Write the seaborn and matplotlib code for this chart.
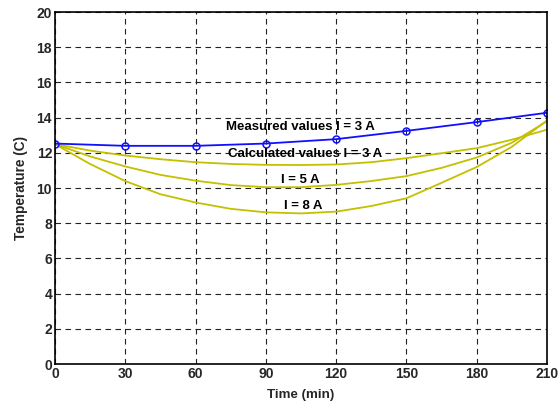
import matplotlib
matplotlib.use("Agg")
import matplotlib.pyplot as plt
import seaborn as sns
import pandas as pd

# Measured temperature every 30 minutes at I = 3 A
time_measured = [0, 30, 60, 90, 120, 150, 180, 210]
temp_measured = [12.53, 12.40, 12.40, 12.53, 12.78, 13.25, 13.75, 14.28]

# Calculated temperatures every 15 minutes for three currents
time_calc = [0, 15, 30, 45, 60, 75, 90, 105, 120, 135, 150, 165, 180, 195, 210]
temp_calc_3a = [12.50, 12.13, 11.85, 11.64, 11.47, 11.37, 11.32, 11.31, 11.34, 11.47,
                11.70, 11.98, 12.27, 12.75, 13.32]
temp_calc_5a = [12.50, 11.80, 11.23, 10.75, 10.42, 10.17, 10.05, 10.05, 10.18, 10.40,
                10.68, 11.15, 11.74, 12.58, 13.80]
temp_calc_8a = [12.50, 11.37, 10.40, 9.65, 9.18, 8.82, 8.62, 8.56, 8.66, 8.98,
                9.42, 10.30, 11.20, 12.35, 13.85]

x_ticks = [0, 30, 60, 90, 120, 150, 180, 210]
y_ticks = [0, 2, 4, 6, 8, 10, 12, 14, 16, 18, 20]

sns.set_style("white")
plt.rcParams["font.family"] = ["Liberation Sans", "DejaVu Sans"]
plt.rcParams["font.weight"] = "bold"

fig = plt.figure(figsize=(5.6, 4.04), dpi=100)
ax = fig.add_axes([0.098, 0.099, 0.879, 0.871])

calc = pd.DataFrame({
    "time": time_calc * 3,
    "temp": temp_calc_3a + temp_calc_5a + temp_calc_8a,
    "current": ["3 A"] * len(time_calc) + ["5 A"] * len(time_calc) + ["8 A"] * len(time_calc),
})
meas = pd.DataFrame({"time": time_measured, "temp": temp_measured})

yellow = "#c4c000"
sns.lineplot(data=calc, x="time", y="temp", units="current", estimator=None,
             color=yellow, lw=1.3, ax=ax, legend=False)
sns.lineplot(data=meas, x="time", y="temp", color="#1010ff", lw=1.3, marker="o",
             markersize=5, markerfacecolor="none", markeredgecolor="#1010ff",
             markeredgewidth=1.1, ax=ax, legend=False)

ax.set_xlim(0, 210)
ax.set_ylim(0, 20)
ax.set_xticks(x_ticks)
ax.set_yticks(y_ticks)
ax.set_xticklabels([str(t) for t in x_ticks], fontsize=10, fontweight="bold")
ax.set_yticklabels([str(t) for t in y_ticks], fontsize=10, fontweight="bold")
ax.tick_params(direction="in", length=4, width=0.8, color="black", pad=2)
ax.grid(True, color="#222222", linestyle=(0, (5, 4)), linewidth=0.8)
for side in ax.spines.values():
    side.set_visible(True)
    side.set_color("black")
    side.set_linewidth(1.2)

ax.set_xlabel("Time (min)", fontsize=9.6, fontweight="bold", labelpad=6)
ax.set_ylabel("Temperature (C)", fontsize=9.8, fontweight="bold", labelpad=6)

text_kw = dict(fontsize=9.5, fontweight="bold", ha="center", va="center", color="black")
ax.text(104.8, 13.47, "Measured values I = 3 A", **text_kw)
ax.text(106.7, 11.93, "Calculated values I = 3 A", **text_kw)
ax.text(104.9, 10.45, "I = 5 A", **text_kw)
ax.text(105.9, 8.98, "I = 8 A", **text_kw)

fig.savefig("out.png", dpi=100)
